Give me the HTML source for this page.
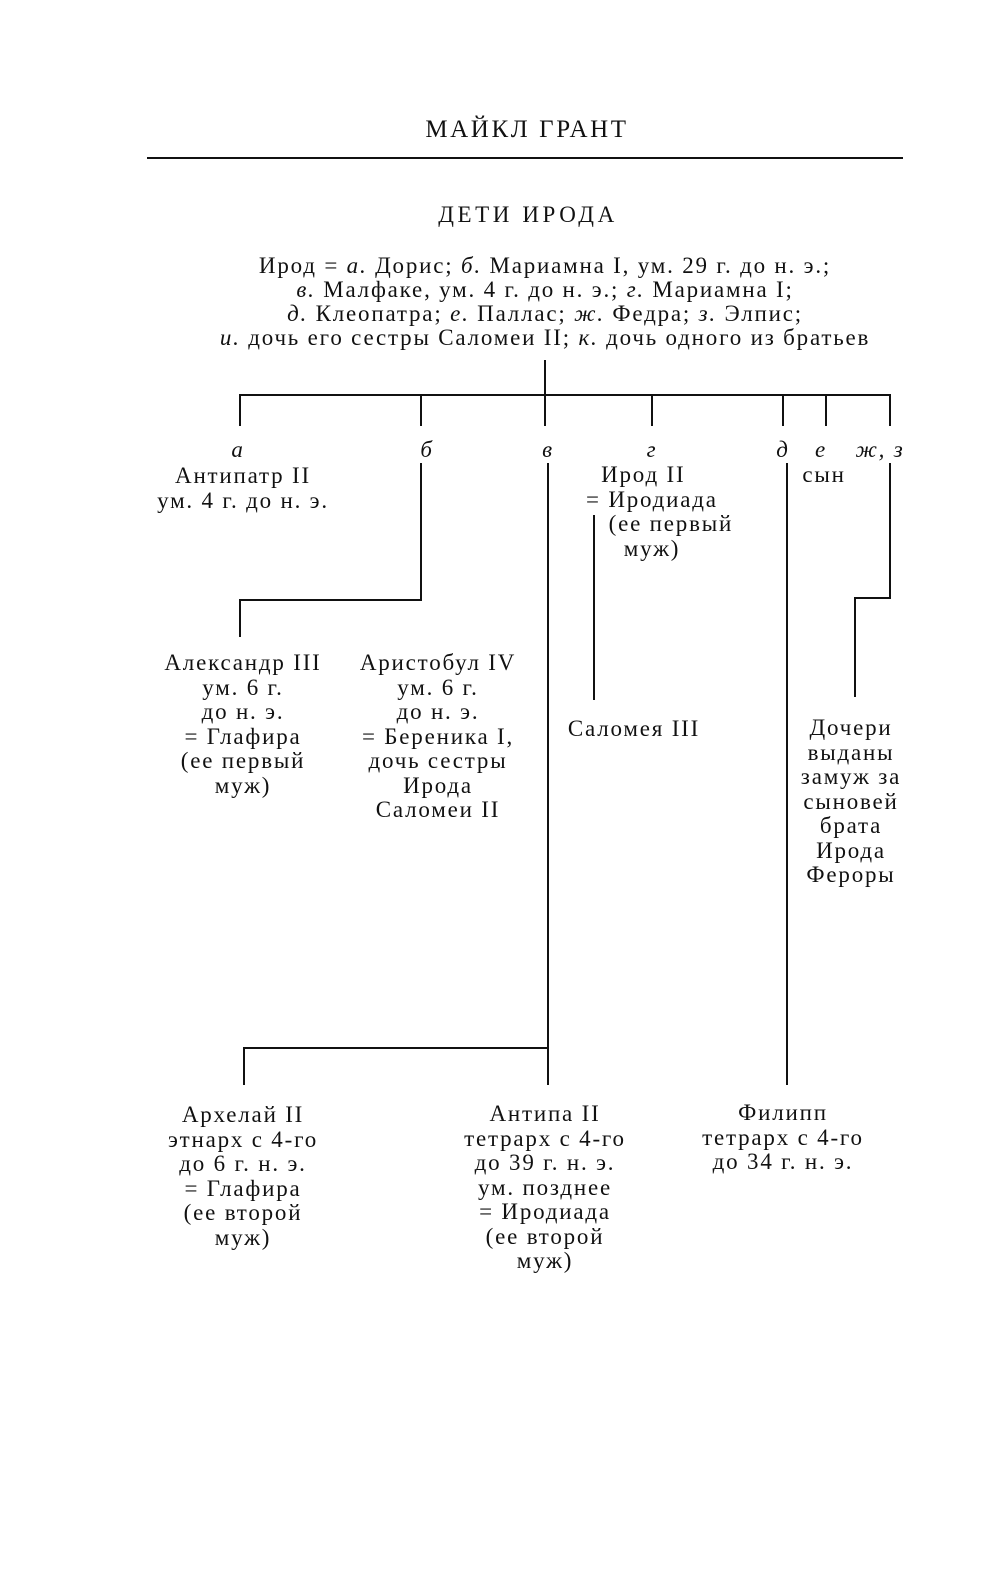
<!DOCTYPE html>
<html><head><meta charset="utf-8"><style>
body{margin:0;background:#fff;}
#p{position:relative;width:1000px;height:1572px;background:#fff;font-family:"Liberation Serif",serif;color:#111;overflow:hidden}
.t{position:absolute;white-space:nowrap;font-size:23px;letter-spacing:1.8px;line-height:24.5px;text-align:center;transform:translateX(-50%)}
.i{font-style:italic}
.l{position:absolute;background:#111}
</style></head><body><div id="p">
<div class="t" style="left:527px;top:118px;font-size:25px;letter-spacing:2.6px">МАЙКЛ ГРАНТ</div>
<div class="l" style="left:147px;top:157px;width:756px;height:2px"></div>
<div class="t" style="left:528px;top:203px;font-size:23px;letter-spacing:3.6px">ДЕТИ ИРОДА</div>
<div class="t" style="left:545px;top:254px;line-height:24px">Ирод = <i>а.</i> Дорис; <i>б.</i> Мариамна I, ум. 29 г. до н. э.;<br><i>в.</i> Малфаке, ум. 4 г. до н. э.; <i>г.</i> Мариамна I;<br><i>д.</i> Клеопатра; <i>е.</i> Паллас; <i>ж.</i> Федра; <i>з.</i> Элпис;<br><i>и.</i> дочь его сестры Саломеи II; <i>к.</i> дочь одного из братьев</div>

<div class="l" style="left:544px;top:360px;width:2px;height:36px"></div>
<div class="l" style="left:239px;top:394px;width:652px;height:2px"></div>
<div class="l" style="left:239px;top:394px;width:2px;height:32px"></div>
<div class="l" style="left:420px;top:394px;width:2px;height:32px"></div>
<div class="l" style="left:544px;top:394px;width:2px;height:32px"></div>
<div class="l" style="left:651px;top:394px;width:2px;height:32px"></div>
<div class="l" style="left:782px;top:394px;width:2px;height:32px"></div>
<div class="l" style="left:825px;top:394px;width:2px;height:32px"></div>
<div class="l" style="left:889px;top:394px;width:2px;height:32px"></div>

<div class="t i" style="left:238px;top:438px">а</div>
<div class="t i" style="left:427px;top:438px">б</div>
<div class="t i" style="left:548px;top:438px">в</div>
<div class="t i" style="left:652px;top:438px">г</div>
<div class="t i" style="left:783px;top:438px">д</div>
<div class="t i" style="left:821px;top:438px">е</div>
<div class="t i" style="left:880px;top:438px">ж, з</div>

<div class="t" style="left:243px;top:464px">Антипатр II<br>ум. 4 г. до н. э.</div>
<div class="t" style="top:463px;text-align:left;transform:none;left:586px">&nbsp;&nbsp;Ирод II<br>= Иродиада<br>&nbsp;&nbsp;&nbsp;(ее первый<br>&nbsp;&nbsp;&nbsp;&nbsp;&nbsp;муж)</div>
<div class="t" style="left:824px;top:463px">сын</div>

<div class="l" style="left:420px;top:463px;width:2px;height:138px"></div>
<div class="l" style="left:239px;top:599px;width:183px;height:2px"></div>
<div class="l" style="left:239px;top:599px;width:2px;height:38px"></div>
<div class="l" style="left:547px;top:463px;width:2px;height:622px"></div>
<div class="l" style="left:243px;top:1047px;width:306px;height:2px"></div>
<div class="l" style="left:243px;top:1047px;width:2px;height:38px"></div>
<div class="l" style="left:593px;top:515px;width:2px;height:185px"></div>
<div class="l" style="left:786px;top:463px;width:2px;height:622px"></div>
<div class="l" style="left:889px;top:463px;width:2px;height:136px"></div>
<div class="l" style="left:854px;top:597px;width:37px;height:2px"></div>
<div class="l" style="left:854px;top:597px;width:2px;height:100px"></div>

<div class="t" style="left:243px;top:651px">Александр III<br>ум. 6 г.<br>до н. э.<br>= Глафира<br>(ее первый<br>муж)</div>
<div class="t" style="left:438px;top:651px">Аристобул IV<br>ум. 6 г.<br>до н. э.<br>= Береника I,<br>дочь сестры<br>Ирода<br>Саломеи II</div>
<div class="t" style="left:634px;top:717px">Саломея III</div>
<div class="t" style="left:851px;top:716px">Дочери<br>выданы<br>замуж за<br>сыновей<br>брата<br>Ирода<br>Фероры</div>

<div class="t" style="left:243px;top:1103px">Архелай II<br>этнарх с 4-го<br>до 6 г. н. э.<br>= Глафира<br>(ее второй<br>муж)</div>
<div class="t" style="left:545px;top:1102px">Антипа II<br>тетрарх с 4-го<br>до 39 г. н. э.<br>ум. позднее<br>= Иродиада<br>(ее второй<br>муж)</div>
<div class="t" style="left:783px;top:1101px">Филипп<br>тетрарх с 4-го<br>до 34 г. н. э.</div>
</div></body></html>
